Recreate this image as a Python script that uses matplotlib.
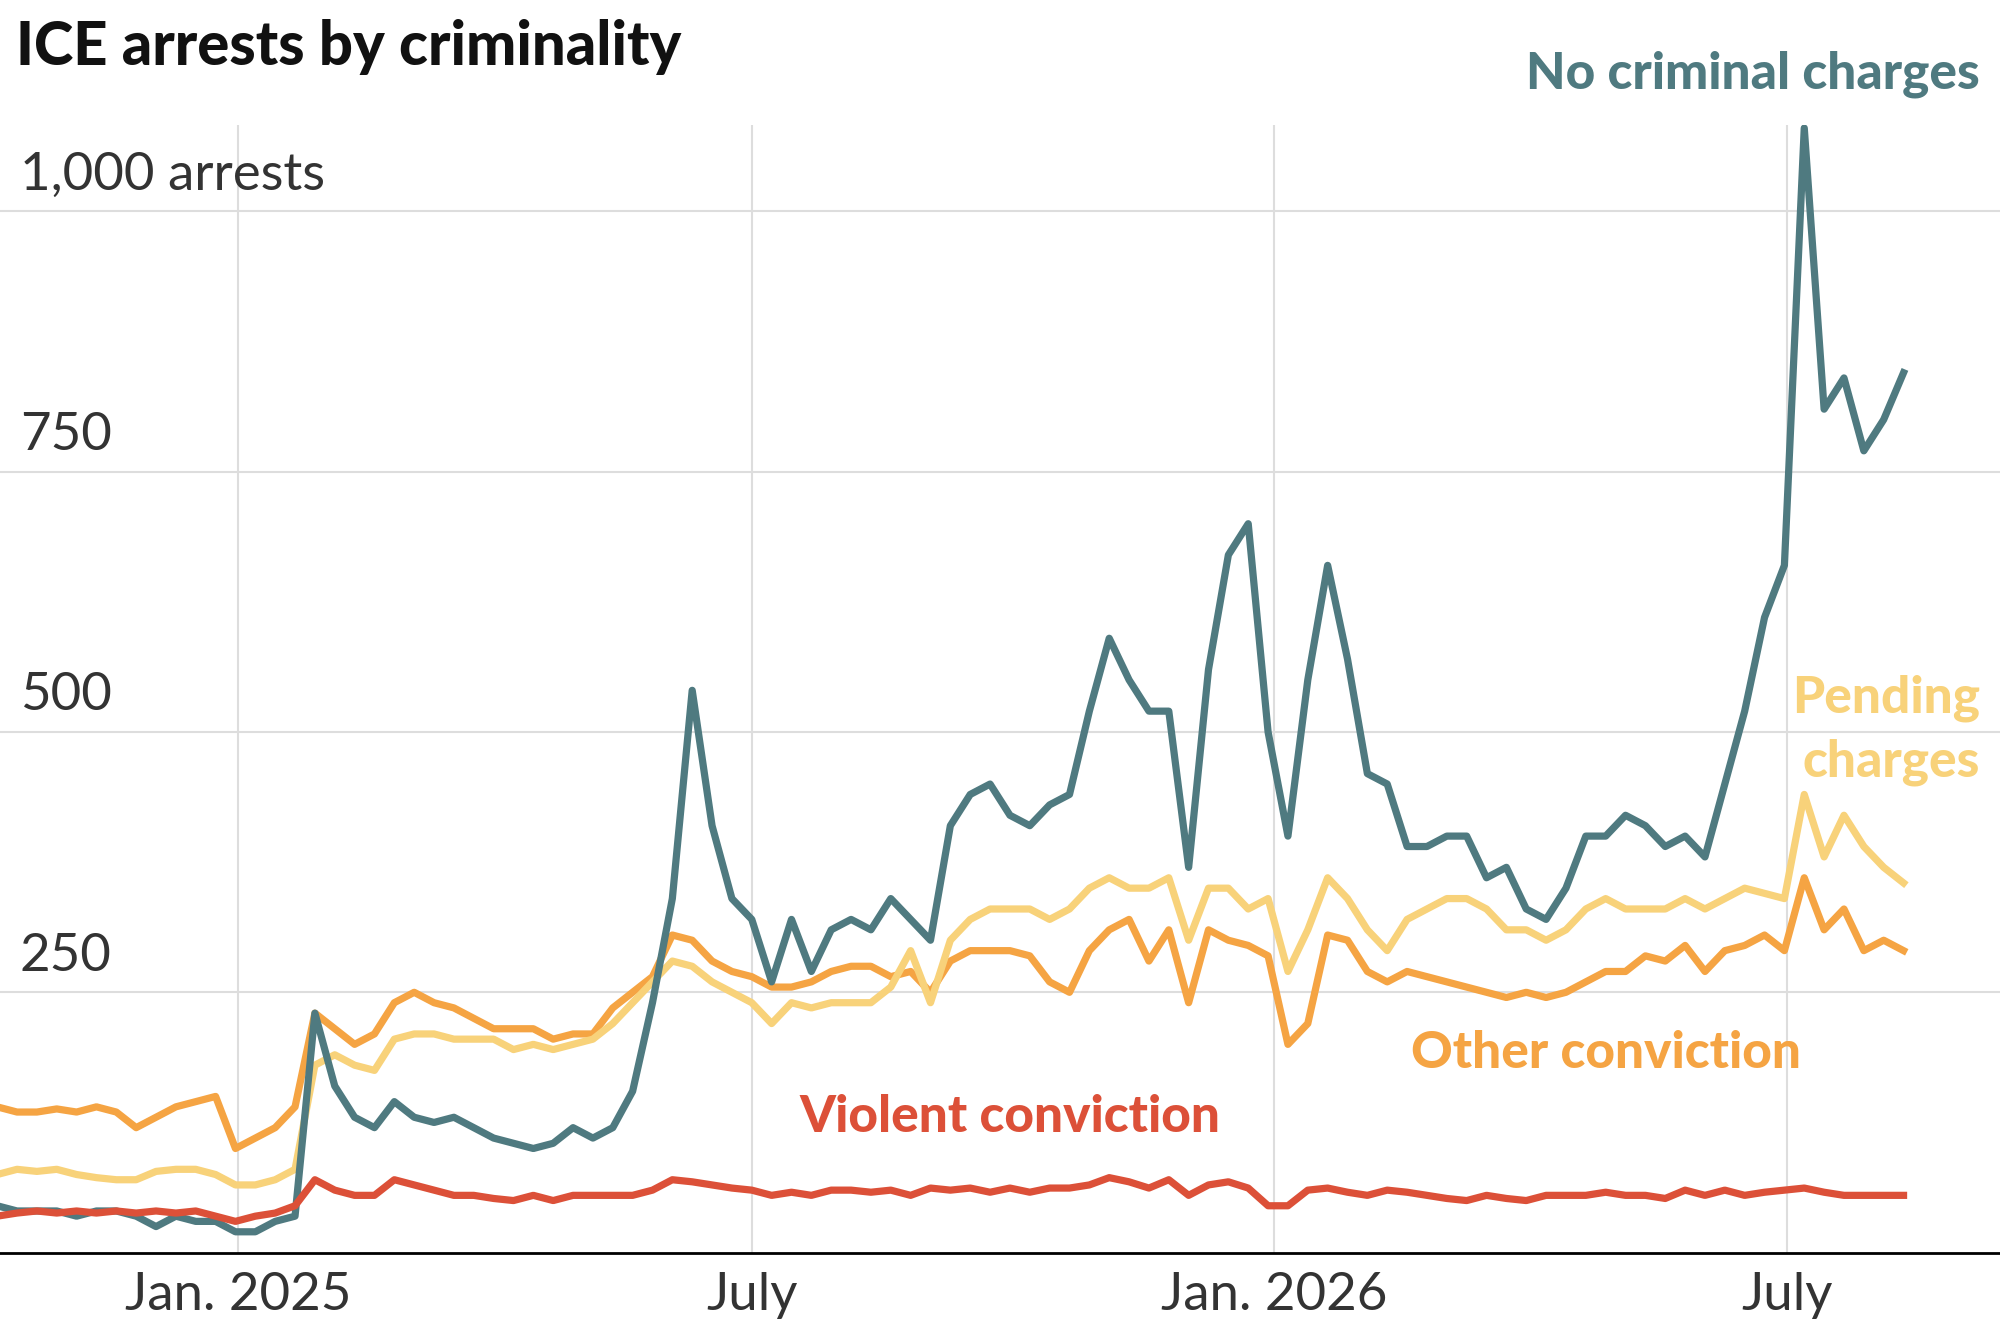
import matplotlib
matplotlib.use("Agg")
import matplotlib.pyplot as plt
import pandas as pd

plt.rcParams['font.family'] = ['Lato', 'DejaVu Sans']

weeks = pd.date_range('2024-10-08', periods=97, freq='7D')

no_charges = [45, 40, 40, 40, 35, 40, 40, 35, 25, 35, 30, 30, 20, 20, 30, 35,
              230, 160, 130, 120, 145, 130, 125, 130, 120, 110, 105, 100, 105, 120,
              110, 120, 155, 240, 340, 540, 410, 340, 320, 260, 320, 270, 310, 320,
              310, 340, 320, 300, 410, 440, 450, 420, 410, 430, 440, 520, 590, 550,
              520, 520, 370, 560, 670, 700, 500, 400, 550, 660, 570, 460, 450, 390,
              390, 400, 400, 360, 370, 330, 320, 350, 400, 400, 420, 410, 390, 400,
              380, 450, 520, 610, 660, 1080, 810, 840, 770, 800, 845]

other_conv = [140, 135, 135, 138, 135, 140, 135, 120, 130, 140, 145, 150, 100, 110,
              120, 140, 230, 215, 200, 210, 240, 250, 240, 235, 225, 215, 215, 215,
              205, 210, 210, 235, 250, 265, 305, 300, 280, 270, 265, 255, 255, 260,
              270, 275, 275, 265, 270, 250, 280, 290, 290, 290, 285, 260, 250, 290,
              310, 320, 280, 310, 240, 310, 300, 295, 285, 200, 220, 305, 300, 270,
              260, 270, 265, 260, 255, 250, 245, 250, 245, 250, 260, 270, 270, 285,
              280, 295, 270, 290, 295, 305, 290, 360, 310, 330, 290, 300, 290]

pending = [75, 80, 78, 80, 75, 72, 70, 70, 78, 80, 80, 75, 65, 65, 70, 80, 180, 190,
           180, 175, 205, 210, 210, 205, 205, 205, 195, 200, 195, 200, 205, 220, 240,
           260, 280, 275, 260, 250, 240, 220, 240, 235, 240, 240, 240, 255, 290, 240,
           300, 320, 330, 330, 330, 320, 330, 350, 360, 350, 350, 360, 300, 350, 350,
           330, 340, 270, 310, 360, 340, 310, 290, 320, 330, 340, 340, 330, 310, 310,
           300, 310, 330, 340, 330, 330, 330, 340, 330, 340, 350, 345, 340, 440, 380,
           420, 390, 370, 355]

violent = [35, 38, 40, 38, 40, 38, 40, 38, 40, 38, 40, 35, 30, 35, 38, 45, 70, 60,
           55, 55, 70, 65, 60, 55, 55, 52, 50, 55, 50, 55, 55, 55, 55, 60, 70, 68, 65,
           62, 60, 55, 58, 55, 60, 60, 58, 60, 55, 62, 60, 62, 58, 62, 58, 62, 62, 65,
           72, 68, 62, 70, 55, 65, 68, 62, 45, 45, 60, 62, 58, 55, 60, 58, 55, 52, 50,
           55, 52, 50, 55, 55, 55, 58, 55, 55, 52, 60, 55, 60, 55, 58, 60, 62, 58, 55,
           55, 55, 55]

teal = '#4f7a80'
yellow = '#f8d27a'
orange = '#f5a443'
red = '#dc5038'

fig = plt.figure(figsize=(20, 13.33), dpi=100)
ax = fig.add_axes([0, 0.0603, 1.0, 0.846])

lw = 5.2
ax.plot(weeks, other_conv, color=orange, lw=lw, zorder=3)
ax.plot(weeks, pending, color=yellow, lw=lw, zorder=4)
ax.plot(weeks, no_charges, color=teal, lw=lw, zorder=5)
ax.plot(weeks, violent, color=red, lw=lw, zorder=6)

ax.set_xlim(pd.Timestamp('2024-10-09'), pd.Timestamp('2026-09-14'))
ax.set_ylim(0, 1083)

for v in [250, 500, 750, 1000]:
    ax.axhline(v, color='#dddddd', lw=1.5, zorder=1)
ticks = pd.to_datetime(['2025-01-01', '2025-07-01', '2026-01-01', '2026-07-01'])
for t in ticks:
    ax.axvline(t, color='#dddddd', lw=1.5, zorder=1)

ax.set_xticks(ticks)
ax.set_xticklabels(['Jan. 2025', 'July', 'Jan. 2026', 'July'], fontsize=38, color='#333333')
ax.tick_params(axis='x', length=0, pad=14)
ax.set_yticks([])
for s in ['top', 'right', 'left']:
    ax.spines[s].set_visible(False)
ax.spines['bottom'].set_linewidth(2)

ytl = {250: '250', 500: '500', 750: '750', 1000: '1,000 arrests'}
for v, s in ytl.items():
    ax.text(0.01, v + 12, s, transform=ax.get_yaxis_transform(), fontsize=38,
            color='#333333', va='bottom', ha='left')

fig.text(0.008, 0.965, 'ICE arrests by criminality', fontsize=43, fontweight='black',
         va='center', ha='left', color='#111111')
fig.text(0.99, 0.944, 'No criminal charges', fontsize=37, fontweight='black',
         color=teal, ha='right', va='center')
ax.text(0.99, 532, 'Pending', transform=ax.get_yaxis_transform(), fontsize=37,
        fontweight='black', color=yellow, ha='right', va='center')
ax.text(0.99, 471, 'charges', transform=ax.get_yaxis_transform(), fontsize=37,
        fontweight='black', color=yellow, ha='right', va='center')
ax.text(weeks[81], 191, 'Other conviction', fontsize=37, fontweight='black',
        color=orange, ha='center', va='center')
ax.text(weeks[51], 130, 'Violent conviction', fontsize=37, fontweight='black',
        color=red, ha='center', va='center')

fig.savefig('out.png', dpi=100)
